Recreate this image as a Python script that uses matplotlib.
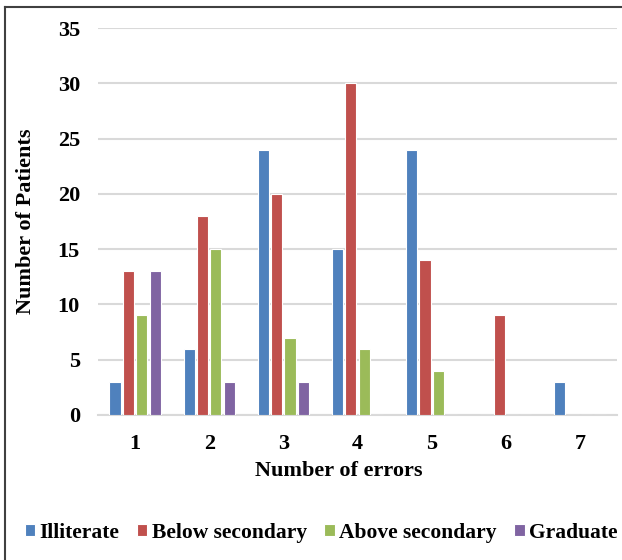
import matplotlib.pyplot as plt
from matplotlib.lines import Line2D
import numpy as np

plt.rcParams['font.family'] = ['Liberation Serif', 'DejaVu Serif']
plt.rcParams['font.weight'] = 'bold'

errors = [1, 2, 3, 4, 5, 6, 7]
illiterate = [3, 6, 24, 15, 24, 0, 3]
below_secondary = [13, 18, 20, 30, 14, 9, 0]
above_secondary = [9, 15, 7, 6, 4, 0, 0]
graduate = [13, 3, 3, 0, 0, 0, 0]

series = [("Illiterate", illiterate, "#4F81BD"),
          ("Below secondary", below_secondary, "#C0504D"),
          ("Above secondary", above_secondary, "#9BBB59"),
          ("Graduate", graduate, "#8064A2")]

fig = plt.figure(figsize=(6.22, 5.60), dpi=100)
ax = fig.add_axes([98 / 622, 1 - 415 / 560, 519 / 622, 387 / 560])

x = np.array(errors)
step = 0.18
width = 0.15
for i, (name, vals, col) in enumerate(series):
    ax.bar(x + (i - 1.5) * step, vals, width, color=col, edgecolor="white",
           linewidth=0.8, label=name, zorder=3)

ax.set_xlim(0.5, 7.5)
ax.set_ylim(0, 35)
ax.set_yticks(range(0, 36, 5))
ax.set_xticks(errors)
ax.yaxis.grid(True, color="#D9D9D9", linewidth=1.5, zorder=0)
for s in ["top", "right", "left"]:
    ax.spines[s].set_visible(False)
ax.spines["bottom"].set_color("#D9D9D9")
ax.spines["bottom"].set_linewidth(1.5)
ax.tick_params(axis="both", length=0, labelsize=16)
ax.tick_params(axis="x", pad=14)
ax.tick_params(axis="y", pad=13)

ax.set_xlabel("Number of errors", fontsize=16, fontweight="bold")
ax.xaxis.set_label_coords((339 - 98) / 519, -0.12)
ax.set_ylabel("Number of Patients", fontsize=16, fontweight="bold")
ax.yaxis.set_label_coords(-(98 - 36) / 519, 0.5)

fig.legend(loc="center", bbox_to_anchor=(321 / 622, 1 - 533 / 560), ncol=4,
           frameon=False, fontsize=15.5, handlelength=0.5, handleheight=0.5,
           handletextpad=0.2, columnspacing=0.8)

fig.add_artist(Line2D([5 / 622, 5 / 622], [0, 1 - 7 / 560], color="#404040",
                      linewidth=1.5, transform=fig.transFigure))
fig.add_artist(Line2D([5 / 622, 1], [1 - 7 / 560, 1 - 7 / 560], color="#404040",
                      linewidth=1.5, transform=fig.transFigure))

fig.savefig("out.png", dpi=100)
